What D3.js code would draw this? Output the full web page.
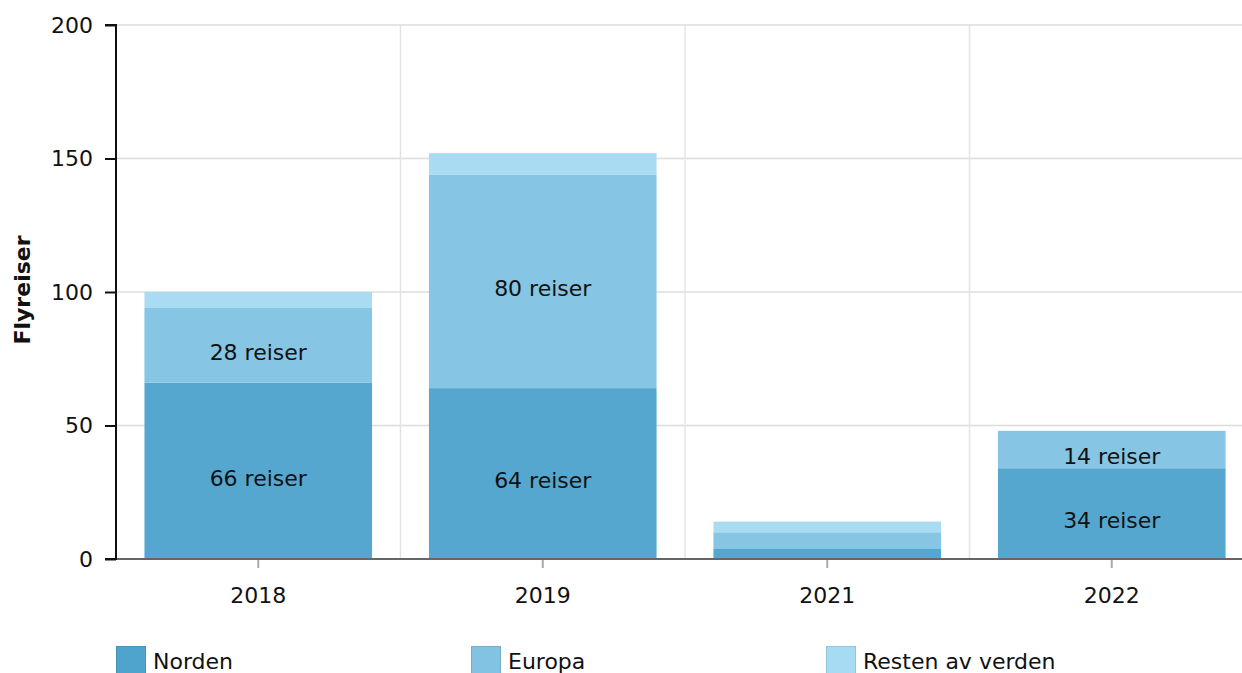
<!DOCTYPE html>
<html><head><meta charset="utf-8">
<script src="https://cdn.jsdelivr.net/npm/d3@7"></script>
<style>body{margin:0;background:#fff}svg{font-family:"DejaVu Sans",Verdana,sans-serif}</style>
</head><body>
<script>
const years = ["2018","2019","2021","2022"];
const seriesNames = ["Norden","Europa","Resten av verden"];
const norden = [66,64,4,34];
const europa = [28,80,6,14];
const resten = [6,8,4,0];
const yTicks = [0,50,100,150,200];
const colors = ["#4fa4cd","#82c3e3","#a6dbf3"];

const W=1242,H=673,FS=22;
const m={l:116,t:25,b:559,r:1254};
const svg=d3.select("body").append("svg").attr("width",W).attr("height",H);
const x=d3.scaleBand().domain(years).range([m.l,m.r]).paddingInner(0.2).paddingOuter(0.1);
const y=d3.scaleLinear().domain([0,200]).range([m.b,m.t]);

// grid
svg.append("g").selectAll("line").data(yTicks.slice(1)).join("line")
  .attr("x1",m.l).attr("x2",W).attr("y1",d=>y(d)).attr("y2",d=>y(d))
  .attr("stroke","#dcdcdc").attr("stroke-width",1.5);
const step=x.step();
svg.append("g").selectAll("line").data(years.slice(1)).join("line")
  .attr("x1",d=>x(d)-x.paddingInner()*step/2).attr("x2",d=>x(d)-x.paddingInner()*step/2)
  .attr("y1",m.t).attr("y2",m.b).attr("stroke","#e4e4e4").attr("stroke-width",1.5);

const data=years.map((yr,i)=>({year:yr,Norden:norden[i],Europa:europa[i],"Resten av verden":resten[i]}));
const stack=d3.stack().keys(seriesNames)(data);
const g=svg.append("g");
stack.forEach((s,si)=>{
  g.append("g").selectAll("rect").data(s).join("rect")
    .attr("x",d=>x(d.data.year)).attr("width",x.bandwidth())
    .attr("y",d=>y(d[1])).attr("height",d=>y(d[0])-y(d[1]))
    .attr("fill",colors[si]).attr("fill-opacity",0.97);
});
stack.forEach((s,si)=>{
  g.append("g").selectAll("text").data(s.filter(d=>y(d[0])-y(d[1])>=30 && si<2)).join("text")
    .attr("x",d=>x(d.data.year)+x.bandwidth()/2)
    .attr("y",d=>(y(d[0])+y(d[1]))/2+7)
    .attr("dy","0.35em").attr("text-anchor","middle").attr("font-size",FS).attr("fill","#111")
    .text(d=>(d[1]-d[0])+" reiser");
});

// x axis
const xa=svg.append("g").attr("transform",`translate(0,${m.b})`);
xa.append("line").attr("x1",m.l).attr("x2",W).attr("stroke","#666").attr("stroke-width",2);
xa.selectAll("line.t").data(years).join("line").attr("class","t")
  .attr("x1",d=>x(d)+x.bandwidth()/2).attr("x2",d=>x(d)+x.bandwidth()/2)
  .attr("y1",1).attr("y2",9).attr("stroke","#aaa").attr("stroke-width",2);
xa.selectAll("text").data(years).join("text")
  .attr("x",d=>x(d)+x.bandwidth()/2).attr("y",44).attr("text-anchor","middle")
  .attr("font-size",FS).attr("fill","#111").text(d=>d);

// y axis
const ya=svg.append("g").attr("transform",`translate(${m.l},0)`)
  .call(d3.axisLeft(y).tickValues(yTicks).tickSize(11).tickPadding(12));
ya.select(".domain").attr("stroke","#111").attr("stroke-width",2).attr("d",`M-11,${m.t}H0V${m.b}H-11`);
ya.selectAll(".tick line").attr("stroke","#111").attr("stroke-width",2);
ya.selectAll(".tick text").attr("font-size",FS).attr("fill","#111").attr("font-family","DejaVu Sans");

svg.append("text").attr("transform",`translate(30,290) rotate(-90)`).attr("text-anchor","middle")
  .attr("font-size",22).attr("font-weight","bold").attr("fill","#111").text("Flyreiser");

// legend
const lg=svg.append("g").selectAll("g").data(seriesNames).join("g")
  .attr("transform",(d,i)=>`translate(${116+i*355},646)`);
lg.append("rect").attr("x",0.5).attr("y",0.5).attr("width",29).attr("height",30)
  .attr("fill",(d,i)=>colors[i]).attr("stroke",(d,i)=>d3.color(colors[i]).darker(0.3)).attr("stroke-width",1);
lg.append("text").attr("x",37).attr("y",23).attr("font-size",FS).attr("fill","#111").text(d=>d);
</script>
</body></html>
